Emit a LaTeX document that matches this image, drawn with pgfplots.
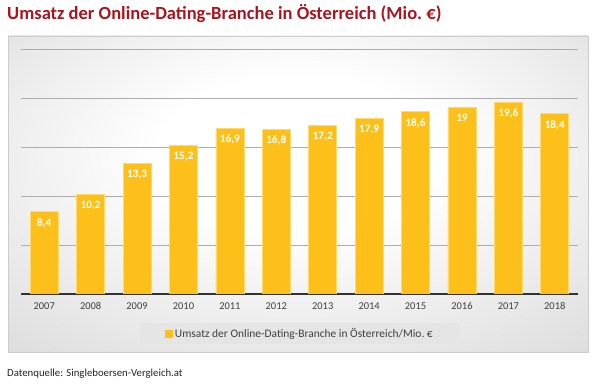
\documentclass[border=0pt]{standalone}
\usepackage{pgfplots}
\pgfplotsset{compat=1.18}
\usepackage{fontspec}
\setmainfont{Carlito}
\definecolor{titlered}{RGB}{170,20,30}
\definecolor{bargold}{RGB}{253,192,26}
\definecolor{baredge}{RGB}{255,218,110}
\definecolor{ticktext}{RGB}{64,64,64}
\pgfdeclareradialshading{panelshade}{\pgfpoint{0bp}{8bp}}{color(0bp)=(white); color(12bp)=(white); color(52bp)=(black!20); color(75bp)=(black!30)}
\begin{document}
\begin{tikzpicture}
\useasboundingbox (0bp,0bp) rectangle (600bp,384bp);
\fill[white] (0bp,0bp) rectangle (600bp,384bp);
\shade[shading=panelshade] (8bp,32bp) rectangle (588bp,348bp);
\draw[black!20] (8bp,32bp) rectangle (588bp,348bp);
\node[anchor=base west, inner sep=0, font=\bfseries\fontsize{18.6}{22}\selectfont, text=titlered] at (7bp,364bp) {Umsatz der Online-Dating-Branche in Österreich (Mio.~€)};
\node[anchor=base west, inner sep=0, font=\fontsize{10.8}{12}\selectfont, text=black!85] at (7bp,8bp) {Datenquelle: Singleboersen-Vergleich.at};
\begin{axis}[
  at={(21bp,90bp)}, anchor=south west, scale only axis,
  width=557bp, height=245bp,
  xmin=-0.5, xmax=11.5, ymin=0, ymax=25,
  axis line style={draw=none},
  tick style={draw=none},
  xtick=data,
  xticklabels={2007,2008,2009,2010,2011,2012,2013,2014,2015,2016,2017,2018},
  ytick={5,10,15,20,25},
  yticklabels={},
  ymajorgrids,
  grid style={black!32, line width=0.6pt},
  extra y ticks={0},
  extra y tick labels={},
  extra y tick style={grid style={black!80, line width=1.3pt}},
  ticklabel style={font=\fontsize{10.5}{12}\selectfont, text=ticktext},
  xticklabel style={yshift=-1bp},
  /pgf/number format/assume math mode=true,
  /pgf/number format/use comma,
  ybar, bar width=28bp,
  nodes near coords,
  every node near coord/.append style={anchor=north, yshift=-3bp, text=white, font=\bfseries\fontsize{11.3}{13}\selectfont},
  legend style={at={(0.501,-0.161)}, anchor=center, fill=black!10, draw=none,
    font=\fontsize{11.5}{13}\selectfont, text=ticktext, inner xsep=25bp, inner ysep=3bp},
  legend image code/.code={\fill[bargold] (0bp,-3.5bp) rectangle (7bp,3.5bp);},
]
\addplot[fill=bargold, draw=baredge, line width=0.6pt] coordinates {
 (0,8.4) (1,10.2) (2,13.3) (3,15.2) (4,16.9) (5,16.8)
 (6,17.2) (7,17.9) (8,18.6) (9,19) (10,19.6) (11,18.4)};
\addlegendentry{Umsatz der Online-Dating-Branche in Österreich/Mio.~€}
\end{axis}
\end{tikzpicture}
\end{document}
